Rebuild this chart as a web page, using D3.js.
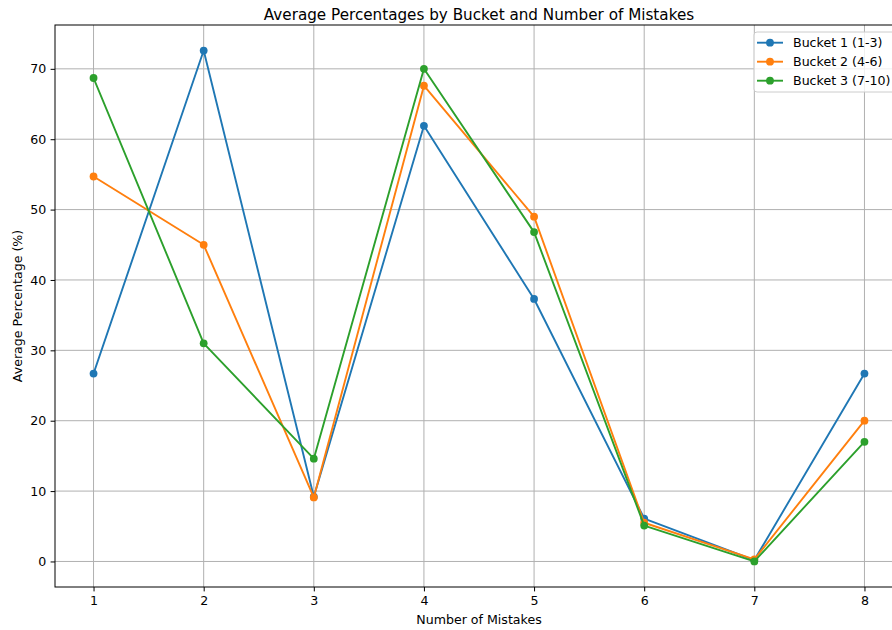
<!DOCTYPE html>
<html>
<head>
<meta charset="utf-8">
<script src="https://cdn.jsdelivr.net/npm/d3@7"></script>
<style>
body{margin:0;background:#fff;}
text{font-family:"DejaVu Sans",sans-serif;fill:#000;}
</style>
</head>
<body>
<svg id="chart" width="892" height="630"></svg>
<script>
const mistakes = [1,2,3,4,5,6,7,8];
const seriesNames = ["Bucket 1 (1-3)","Bucket 2 (4-6)","Bucket 3 (7-10)"];
const bucket1 = [26.7,72.6,9.2,61.9,37.3,6.1,0.2,26.7];
const bucket2 = [54.7,45.0,9.1,67.6,49.0,5.5,0.3,20.0];
const bucket3 = [68.7,31.0,14.6,70.0,46.8,5.1,0.0,17.0];
const yTicks = [0,10,20,30,40,50,60,70];
const colors = ["#1f77b4","#ff7f0e","#2ca02c"];
const allSeries = [bucket1,bucket2,bucket3];

const FS = "12.6px";
const svg = d3.select("#chart");
const L = 55, R = 903, T = 25, B = 587;
const x = d3.scaleLinear().domain([0.65, 8.35]).range([L, R]);
const yMax = d3.max(allSeries.flat()), yMin = d3.min(allSeries.flat());
const pad = (yMax - yMin) * 0.05;
const y = d3.scaleLinear().domain([yMin - pad, yMax + pad]).range([B, T]);

// grid
const g = svg.append("g");
g.selectAll(".gx").data(mistakes).enter().append("line")
  .attr("x1", d => x(d)).attr("x2", d => x(d)).attr("y1", T).attr("y2", B)
  .attr("stroke", "#b0b0b0").attr("stroke-width", 1);
g.selectAll(".gy").data(yTicks).enter().append("line")
  .attr("x1", L).attr("x2", R).attr("y1", d => y(d)).attr("y2", d => y(d))
  .attr("stroke", "#b0b0b0").attr("stroke-width", 1);

// lines
const line = d3.line().x((d,i) => x(mistakes[i])).y(d => y(d));
allSeries.forEach((s, k) => {
  svg.append("path").datum(s).attr("d", line)
    .attr("fill", "none").attr("stroke", colors[k]).attr("stroke-width", 1.9)
    .attr("stroke-linejoin", "round").attr("stroke-linecap", "square");
  svg.selectAll(".m" + k).data(s).enter().append("circle")
    .attr("cx", (d,i) => x(mistakes[i])).attr("cy", d => y(d)).attr("r", 3.9)
    .attr("fill", colors[k]);
});

// axes
const xAxis = d3.axisBottom(x).tickValues(mistakes).tickFormat(d3.format("d")).tickSize(4.4).tickPadding(4.4);
const yAxis = d3.axisLeft(y).tickValues(yTicks).tickFormat(d3.format("d")).tickSize(4.4).tickPadding(4.4);
const gx = svg.append("g").attr("transform", `translate(0,${B})`).call(xAxis);
const gy = svg.append("g").attr("transform", `translate(${L},0)`).call(yAxis);
[gx, gy].forEach(a => {
  a.select(".domain").remove();
  a.selectAll("line").attr("stroke", "#000").attr("stroke-width", 1);
  a.selectAll("text").attr("font-size", FS).attr("fill", "#000").style("font-family", "DejaVu Sans");
});
// spines
svg.append("rect").attr("x", L).attr("y", T).attr("width", R - L).attr("height", B - T)
  .attr("fill", "none").attr("stroke", "#000").attr("stroke-width", 1);

// title & labels
svg.append("text").attr("x", (L + R) / 2).attr("y", 19.5).attr("text-anchor", "middle")
  .attr("font-size", "15.2px").text("Average Percentages by Bucket and Number of Mistakes");
svg.append("text").attr("x", (L + R) / 2).attr("y", 624).attr("text-anchor", "middle")
  .attr("font-size", FS).text("Number of Mistakes");
svg.append("text").attr("transform", `translate(21.5,${(T + B) / 2}) rotate(-90)`).attr("text-anchor", "middle")
  .attr("font-size", FS).text("Average Percentage (%)");

// legend
const lg = svg.append("g");
lg.append("rect").attr("x", 754).attr("y", 32).attr("width", 142).attr("height", 60)
  .attr("rx", 3).attr("fill", "#fff").attr("fill-opacity", 0.8).attr("stroke", "#cccccc").attr("stroke-width", 1);
seriesNames.forEach((n, k) => {
  const yy = 42.7 + k * 19;
  lg.append("line").attr("x1", 757).attr("x2", 783).attr("y1", yy).attr("y2", yy)
    .attr("stroke", colors[k]).attr("stroke-width", 1.9);
  lg.append("circle").attr("cx", 770).attr("cy", yy).attr("r", 3.9).attr("fill", colors[k]);
  lg.append("text").attr("x", 793).attr("y", yy + 4.5).attr("font-size", FS).text(n);
});
</script>
</body>
</html>
